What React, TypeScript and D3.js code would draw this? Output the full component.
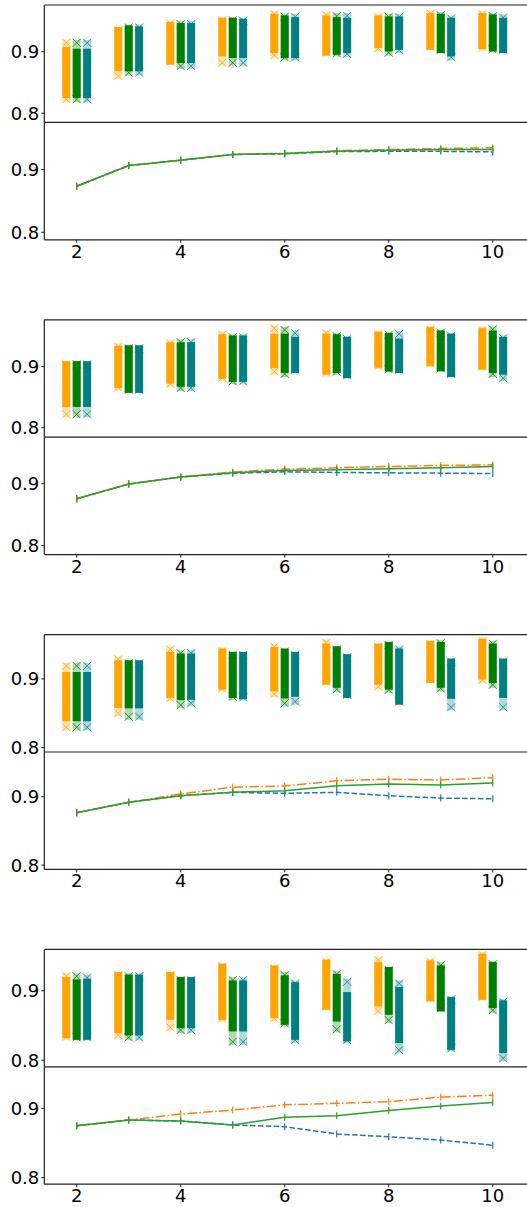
import React from 'react';
import * as d3 from 'd3';

// x positions shared by every panel
const steps = [2, 3, 4, 5, 6, 7, 8, 9, 10];
const xTicks = [2, 4, 6, 8, 10];
const yTicks = [0.8, 0.9];

// scatter columns: [lowest marker, dense bottom, dense top, highest marker]
const g1Orange = [[0.8226, 0.8297, 0.9027, 0.9146], [0.8605, 0.873, 0.9352, 0.9352], [0.8838, 0.8838, 0.9433, 0.946], [0.8821, 0.8973, 0.9503, 0.9514], [0.8946, 0.9027, 0.9568, 0.9611], [0.8984, 0.8984, 0.9541, 0.9595], [0.9054, 0.9108, 0.9541, 0.9568], [0.9081, 0.9081, 0.9579, 0.9622], [0.907, 0.9092, 0.9579, 0.9611]];
const g1Green = [[0.8226, 0.8297, 0.9, 0.9146], [0.8659, 0.873, 0.9379, 0.9395], [0.8767, 0.8865, 0.9417, 0.9449], [0.8821, 0.8946, 0.9503, 0.9514], [0.8908, 0.8946, 0.9541, 0.9568], [0.8973, 0.9, 0.9514, 0.9579], [0.8984, 0.9054, 0.9525, 0.9568], [0.9027, 0.9027, 0.9568, 0.9595], [0.9038, 0.9054, 0.9557, 0.9579]];
const g1Teal = [[0.8226, 0.8297, 0.9, 0.9146], [0.8659, 0.873, 0.9363, 0.9395], [0.8767, 0.8865, 0.9417, 0.9449], [0.8821, 0.8946, 0.9487, 0.9503], [0.8908, 0.8946, 0.9514, 0.9568], [0.8962, 0.9027, 0.9503, 0.9584], [0.9027, 0.9081, 0.9525, 0.9568], [0.8908, 0.8973, 0.9503, 0.9541], [0.9027, 0.9027, 0.9503, 0.9557]];

const g2Orange = [[0.822, 0.839, 0.904, 0.904], [0.866, 0.87, 0.929, 0.933], [0.872, 0.877, 0.935, 0.938], [0.882, 0.885, 0.948, 0.952], [0.8918, 0.9028, 0.949, 0.9626], [0.89, 0.8918, 0.949, 0.9548], [0.901, 0.903, 0.952, 0.9536], [0.9055, 0.9055, 0.96, 0.961], [0.9, 0.9, 0.958, 0.96]];
const g2Green = [[0.822, 0.839, 0.904, 0.904], [0.862, 0.862, 0.93, 0.93], [0.865, 0.872, 0.935, 0.94], [0.876, 0.88, 0.946, 0.948], [0.888, 0.8946, 0.949, 0.96], [0.8918, 0.8946, 0.948, 0.95], [0.8957, 0.897, 0.95, 0.952], [0.8973, 0.8973, 0.954, 0.9557], [0.888, 0.8946, 0.954, 0.961]];
const g2Teal = [[0.822, 0.839, 0.904, 0.904], [0.862, 0.862, 0.93, 0.93], [0.865, 0.872, 0.935, 0.94], [0.876, 0.88, 0.946, 0.948], [0.8946, 0.8946, 0.9437, 0.9547], [0.886, 0.886, 0.9438, 0.945], [0.8946, 0.8946, 0.941, 0.9536], [0.888, 0.888, 0.949, 0.9503], [0.881, 0.8918, 0.9437, 0.9466]];

const g3Orange = [[0.8297, 0.8428, 0.9058, 0.919], [0.85, 0.862, 0.9228, 0.9287], [0.872, 0.8767, 0.935, 0.943], [0.886, 0.8888, 0.9398, 0.941], [0.878, 0.8864, 0.942, 0.947], [0.896, 0.896, 0.947, 0.9529], [0.8888, 0.896, 0.947, 0.947], [0.8986, 0.8986, 0.951, 0.951], [0.8986, 0.9034, 0.954, 0.9558]];
const g3Green = [[0.8297, 0.8428, 0.9058, 0.919], [0.845, 0.8616, 0.9228, 0.9228], [0.862, 0.8735, 0.9326, 0.9374], [0.874, 0.8767, 0.935, 0.935], [0.8646, 0.876, 0.9398, 0.9398], [0.885, 0.8915, 0.943, 0.943], [0.884, 0.8888, 0.9495, 0.9495], [0.886, 0.8915, 0.9495, 0.952], [0.8913, 0.8985, 0.947, 0.951]];
const g3Teal = [[0.8297, 0.8428, 0.9058, 0.919], [0.845, 0.8616, 0.9228, 0.9228], [0.8646, 0.874, 0.9326, 0.9374], [0.873, 0.875, 0.935, 0.935], [0.867, 0.8784, 0.935, 0.935], [0.8767, 0.8767, 0.9316, 0.9316], [0.867, 0.867, 0.9398, 0.943], [0.8588, 0.8754, 0.9252, 0.9252], [0.8588, 0.8767, 0.9252, 0.9252]];

const g4Orange = [[0.8336, 0.836, 0.9155, 0.921], [0.836, 0.8433, 0.9227, 0.9227], [0.847, 0.8625, 0.9227, 0.9227], [0.86, 0.8625, 0.9346, 0.9356], [0.86, 0.865, 0.9323, 0.9323], [0.877, 0.877, 0.9404, 0.9419], [0.871, 0.8818, 0.937, 0.9443], [0.889, 0.889, 0.9395, 0.9419], [0.8913, 0.8913, 0.949, 0.9515]];
const g4Green = [[0.8328, 0.8336, 0.912, 0.921], [0.8328, 0.84, 0.919, 0.921], [0.8433, 0.8505, 0.9155, 0.9155], [0.8264, 0.8457, 0.9106, 0.9155], [0.853, 0.8553, 0.918, 0.9227], [0.8443, 0.86, 0.92, 0.924], [0.8577, 0.8697, 0.93, 0.93], [0.8746, 0.8746, 0.9323, 0.937], [0.872, 0.8794, 0.937, 0.9385]];
const g4Teal = [[0.8328, 0.8336, 0.9131, 0.919], [0.8328, 0.84, 0.919, 0.921], [0.8433, 0.8505, 0.9155, 0.9155], [0.8264, 0.8457, 0.9106, 0.9155], [0.8289, 0.8336, 0.908, 0.9106], [0.8289, 0.8313, 0.8938, 0.913], [0.8144, 0.8289, 0.901, 0.9106], [0.8169, 0.8192, 0.8866, 0.8876], [0.8025, 0.8144, 0.8818, 0.884]];

// mean curves of the lower panels
const g1Blue = [0.8734, 0.9064, 0.9148, 0.9239, 0.925, 0.9285, 0.929, 0.929, 0.928];
const g1Line2 = [0.8734, 0.9058, 0.9148, 0.924, 0.9258, 0.93, 0.9318, 0.9335, 0.9346];
const g1Line3 = [0.8734, 0.9064, 0.9148, 0.9239, 0.9255, 0.9292, 0.9305, 0.932, 0.932];
const g2Blue = [0.8758, 0.8995, 0.911, 0.917, 0.9194, 0.9183, 0.9177, 0.9172, 0.9166];
const g2Line2 = [0.8758, 0.8995, 0.911, 0.919, 0.9237, 0.9258, 0.928, 0.9296, 0.9306];
const g2Line3 = [0.8758, 0.8995, 0.911, 0.918, 0.9215, 0.9226, 0.9242, 0.9258, 0.928];
const g3Blue = [0.8766, 0.8918, 0.9015, 0.9064, 0.905, 0.9064, 0.9015, 0.898, 0.897];
const g3Line2 = [0.8766, 0.8918, 0.904, 0.914, 0.9157, 0.9234, 0.9255, 0.9245, 0.9278];
const g3Line3 = [0.8766, 0.8918, 0.9015, 0.9064, 0.9088, 0.916, 0.9186, 0.917, 0.92];
const g4Blue = [0.875, 0.8831, 0.8817, 0.876, 0.8735, 0.863, 0.859, 0.8543, 0.8467];
const g4Line2 = [0.875, 0.8831, 0.8918, 0.8975, 0.9052, 0.9072, 0.9095, 0.9163, 0.919];
const g4Line3 = [0.875, 0.8831, 0.8817, 0.876, 0.887, 0.8893, 0.897, 0.9033, 0.9086];

const groups = [
  { scatter: [g1Orange, g1Green, g1Teal], lines: [g1Blue, g1Line2, g1Line3], upY: [0.785, 0.976], lowY: [0.788, 0.975] },
  { scatter: [g2Orange, g2Green, g2Teal], lines: [g2Blue, g2Line2, g2Line3], upY: [0.7846, 0.9766], lowY: [0.7855, 0.9753] },
  { scatter: [g3Orange, g3Green, g3Teal], lines: [g3Blue, g3Line2, g3Line3], upY: [0.7937, 0.9645], lowY: [0.7937, 0.9654] },
  { scatter: [g4Orange, g4Green, g4Teal], lines: [g4Blue, g4Line2, g4Line3], upY: [0.7904, 0.9597], lowY: [0.7905, 0.96] },
];

const W = 527;
const H = 1207;
const left = 44.3;
const groupTop = 5;
const groupStep = 314.8;
const panelH = 117.4;
const scatterColors = ['#FFA500', '#008000', '#008080'];
const offsets = [-0.2, 0, 0.2];
const lineStyles = [
  { color: '#1f77b4', dash: '5.5,2.4' },
  { color: '#ff7f0e', dash: '9.6,2.4,1.5,2.4' },
  { color: '#2ca02c', dash: null },
];
const font = 'DejaVu Sans, sans-serif';

const x = d3.scaleLinear().domain([1.377, 10.62]).range([left, 525]);

const Cross = ({ cx, cy, color }) => (
  <path d={`M${cx - 4},${cy - 4}L${cx + 4},${cy + 4}M${cx - 4},${cy + 4}L${cx + 4},${cy - 4}`}
    stroke={color} strokeWidth={1} strokeOpacity={0.75} fill="none" />
);

function YAxis({ y }) {
  return (
    <g>
      {yTicks.map(t => (
        <g key={t}>
          <line x1={left - 3} x2={left} y1={y(t)} y2={y(t)} stroke="#222" />
          <text x={left - 5} y={y(t)} dy="0.36em" textAnchor="end" fontSize={18} fontFamily={font}>{t.toFixed(1)}</text>
        </g>
      ))}
    </g>
  );
}

function Group({ gi }) {
  const grp = groups[gi];
  const top = groupTop + gi * groupStep;
  const mid = top + panelH;
  const bottom = mid + panelH;
  const yUp = d3.scaleLinear().domain(grp.upY).range([mid, top]);
  const yLow = d3.scaleLinear().domain(grp.lowY).range([bottom, mid]);
  const line = d3.line().x((d, i) => x(steps[i])).y(d => yLow(d));

  return (
    <g>
      <defs>
        <clipPath id={`clipU${gi}`}><rect x={left} y={top} width={W - left} height={panelH} /></clipPath>
        <clipPath id={`clipL${gi}`}><rect x={left} y={mid} width={W - left} height={panelH} /></clipPath>
      </defs>
      <g clipPath={`url(#clipU${gi})`}>
        {grp.scatter.map((series, si) => series.map((c, i) => {
          const cx = x(steps[i] + offsets[si]);
          const col = scatterColors[si];
          return (
            <g key={`${si}-${i}`}>
              <rect x={cx - 4} width={8} y={yUp(c[3]) - 3} height={yUp(c[0]) - yUp(c[3]) + 6} fill={col} fillOpacity={0.3} />
              <rect x={cx - 4} width={8} y={yUp(c[2]) - 3} height={yUp(c[1]) - yUp(c[2]) + 6} fill={col} />
              <Cross cx={cx} cy={yUp(c[3])} color={col} />
              <Cross cx={cx} cy={yUp(c[0])} color={col} />
            </g>
          );
        }))}
      </g>
      <g clipPath={`url(#clipL${gi})`}>
        {grp.lines.map((vals, li) => (
          <g key={li}>
            <path d={line(vals)} fill="none" stroke={lineStyles[li].color} strokeWidth={1.5}
              strokeDasharray={lineStyles[li].dash || undefined} />
            {vals.map((v, i) => (
              <line key={i} x1={x(steps[i])} x2={x(steps[i])} y1={yLow(v) - 3.5} y2={yLow(v) + 3.5}
                stroke={lineStyles[li].color} strokeWidth={1.2} />
            ))}
          </g>
        ))}
      </g>
      <YAxis y={yUp} />
      <YAxis y={yLow} />
      <line x1={left} x2={W} y1={top} y2={top} stroke="#222" strokeWidth={1.2} />
      <line x1={left} x2={W} y1={mid} y2={mid} stroke="#222" strokeWidth={1.2} />
      <line x1={left} x2={W} y1={bottom} y2={bottom} stroke="#222" strokeWidth={1.2} />
      <line x1={left} x2={left} y1={top} y2={bottom} stroke="#222" strokeWidth={1.2} />
      {xTicks.map(t => (
        <g key={t}>
          <line x1={x(t)} x2={x(t)} y1={bottom} y2={bottom + 3} stroke="#222" />
          <text x={x(t)} y={bottom + 18} textAnchor="middle" fontSize={18} fontFamily={font}>{t}</text>
        </g>
      ))}
    </g>
  );
}

export default function App() {
  return (
    <svg width={W} height={H} style={{ position: 'absolute', left: 0, top: 0, background: '#fff' }}>
      {groups.map((g, gi) => <Group key={gi} gi={gi} />)}
    </svg>
  );
}
